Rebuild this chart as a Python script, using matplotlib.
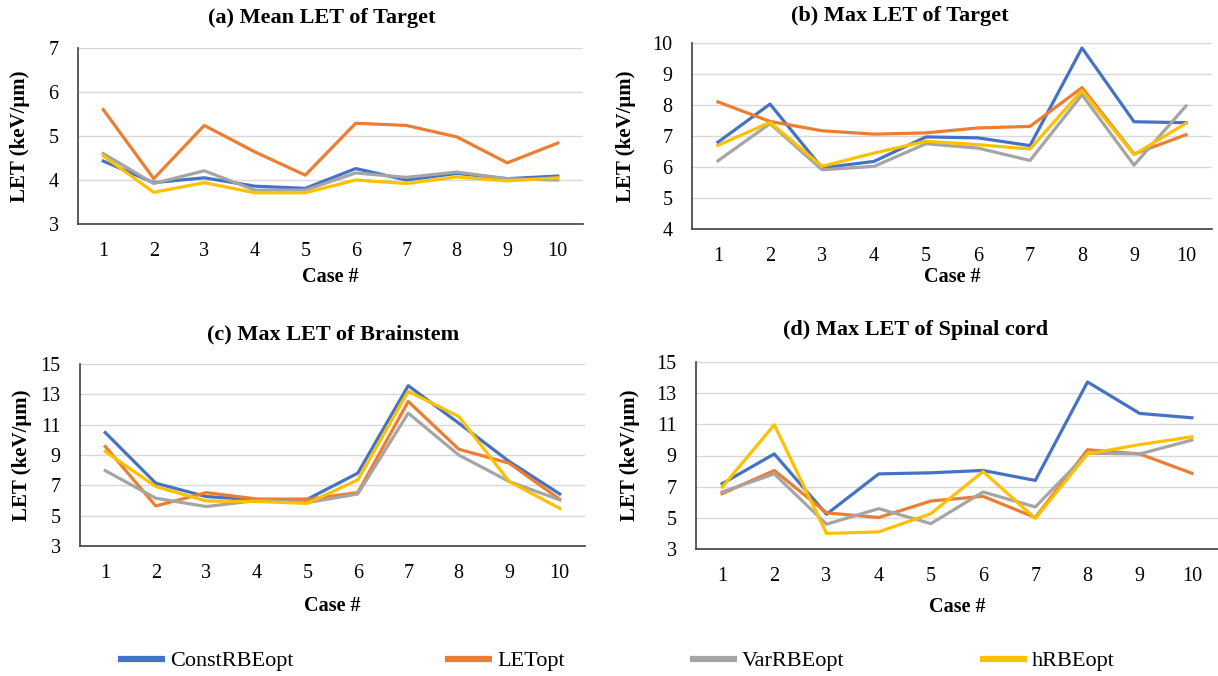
import numpy as np
import matplotlib
matplotlib.use("Agg")
import matplotlib.pyplot as plt
from matplotlib.lines import Line2D

plt.rcParams['font.family'] = ['Liberation Serif', 'DejaVu Serif']

cases = [1, 2, 3, 4, 5, 6, 7, 8, 9, 10]
names = ['ConstRBEopt', 'LETopt', 'VarRBEopt', 'hRBEopt']
colors = ['#4472C4', '#ED7D31', '#A5A5A5', '#FFC000']

# (a) Mean LET of Target
a_const = [4.43, 3.94, 4.05, 3.86, 3.81, 4.26, 4.00, 4.15, 4.03, 4.09]
a_let = [5.60, 4.03, 5.24, 4.64, 4.11, 5.29, 5.24, 4.98, 4.39, 4.84]
a_var = [4.60, 3.92, 4.21, 3.77, 3.77, 4.16, 4.06, 4.18, 4.03, 4.00]
a_h = [4.55, 3.72, 3.94, 3.71, 3.71, 4.00, 3.92, 4.07, 3.98, 4.05]

# (b) Max LET of Target
b_const = [6.80, 8.03, 5.97, 6.18, 6.97, 6.94, 6.69, 9.84, 7.46, 7.43]
b_let = [8.10, 7.47, 7.17, 7.06, 7.10, 7.26, 7.31, 8.56, 6.42, 7.04]
b_var = [6.20, 7.40, 5.91, 6.02, 6.75, 6.61, 6.21, 8.33, 6.06, 7.97]
b_h = [6.70, 7.44, 6.02, 6.45, 6.83, 6.72, 6.58, 8.47, 6.40, 7.41]

# (c) Max LET of Brainstem
c_const = [10.48, 7.14, 6.26, 6.04, 6.08, 7.80, 13.57, 11.10, 8.57, 6.43]
c_let = [9.56, 5.64, 6.52, 6.10, 6.08, 6.52, 12.53, 9.38, 8.46, 6.08]
c_var = [7.97, 6.15, 5.60, 6.00, 5.86, 6.43, 11.76, 9.00, 7.25, 6.04]
c_h = [9.23, 6.92, 5.97, 5.93, 5.81, 7.36, 13.20, 11.54, 7.25, 5.48]

# (d) Max LET of Spinal cord
d_const = [7.19, 9.10, 5.23, 7.82, 7.89, 8.04, 7.40, 13.72, 11.70, 11.42]
d_let = [6.55, 8.04, 5.32, 5.02, 6.08, 6.38, 5.02, 9.37, 9.10, 7.86]
d_var = [6.66, 7.82, 4.59, 5.59, 4.63, 6.66, 5.70, 9.14, 9.10, 9.99]
d_h = [6.97, 10.97, 4.00, 4.10, 5.27, 7.97, 4.96, 9.10, 9.70, 10.20]

W, H = 1218, 676
fig = plt.figure(figsize=(W / 100, H / 100), dpi=100)


def panel(rect, series, yticks, title, title_xy, ylab_x, xlab_pad):
    l, t, r, b = rect
    ax = fig.add_axes([l / W, 1 - b / H, (r - l) / W, (b - t) / H])
    for vals, c in zip(series, colors):
        ax.plot(cases, vals, color=c, lw=2.3, solid_joinstyle='round')
    ax.set_xlim(0.5, 10.5)
    ax.set_ylim(yticks[0], yticks[-1])
    ax.set_xticks(cases)
    ax.set_yticks(yticks)
    ax.grid(axis='y', color='#D9D9D9', lw=1)
    ax.set_axisbelow(True)
    for s in ['top', 'right']:
        ax.spines[s].set_visible(False)
    for s in ['left', 'bottom']:
        ax.spines[s].set_color('#404040')
        ax.spines[s].set_linewidth(1.2)
    ax.tick_params(length=0, labelsize=14.5, pad=13)
    ax.tick_params(axis='y', pad=14)
    ax.set_xlabel('Case #', fontsize=14.5, fontweight='bold', labelpad=xlab_pad)
    fig.text(ylab_x / W, 1 - ((t + b) / 2) / H, 'LET (keV/μm)', rotation=90,
             fontsize=15, fontweight='bold', ha='center', va='center')
    fig.text(title_xy[0] / W, 1 - title_xy[1] / H, title, fontsize=16,
             fontweight='bold', ha='center', va='center')
    return ax


panel((78, 48, 583, 224), [a_const, a_let, a_var, a_h], [3, 4, 5, 6, 7],
      '(a) Mean LET of Target', (322, 18), 20, 4)
panel((692, 43, 1212, 229), [b_const, b_let, b_var, b_h], [4, 5, 6, 7, 8, 9, 10],
      '(b) Max LET of Target', (900, 16), 626, 1)
panel((80, 364, 585, 546), [c_const, c_let, c_var, c_h], [3, 5, 7, 9, 11, 13, 15],
      '(c) Max LET of Brainstem', (333, 334), 22, 9)
panel((696, 362, 1218, 549), [d_const, d_let, d_var, d_h], [3, 5, 7, 9, 11, 13, 15],
      '(d) Max LET of Spinal cord', (916, 330), 630, 8)

leg_x = [118, 445, 690, 980]
for n, c, x in zip(names, colors, leg_x):
    h = Line2D([], [], color=c, lw=4.5, solid_capstyle='butt')
    fig.legend([h], [n], loc='center left', bbox_to_anchor=(x / W, 1 - 661 / H),
               frameon=False, fontsize=16, handlelength=2.1, handletextpad=0.25,
               borderpad=0, borderaxespad=0)

fig.savefig('out.png', dpi=100)
